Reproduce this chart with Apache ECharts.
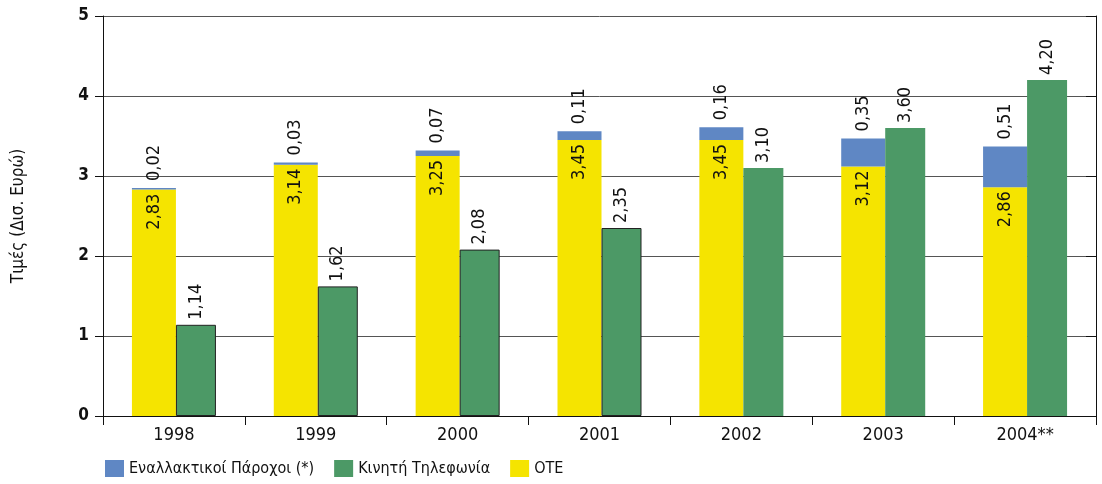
<!DOCTYPE html>
<html>
<head>
<meta charset="utf-8">
<script src="https://cdn.jsdelivr.net/npm/echarts@6/dist/echarts.min.js"></script>
<style>
html, body { margin: 0; padding: 0; background: #fff; }
#chart { width: 1102px; height: 484px; }
</style>
</head>
<body>
<div id="chart"></div>
<script>
// δεδομένα
var years = ['1998', '1999', '2000', '2001', '2002', '2003', '2004**'];
var oteValues = [2.83, 3.14, 3.25, 3.45, 3.45, 3.12, 2.86];
var altValues = [0.02, 0.03, 0.07, 0.11, 0.16, 0.35, 0.51];
var mobileValues = [1.14, 1.62, 2.08, 2.35, 3.10, 3.60, 4.20];
var yTicks = [0, 1, 2, 3, 4, 5];

var FONT = 'DejaVu Sans Condensed';

function fmt(v) {
    return v.toFixed(2).replace('.', ',');
}

var myChart = echarts.init(document.getElementById('chart')),
    option = {
        animation: false,
        textStyle: { fontFamily: FONT },
        color: ['#F5E400', '#5F87C4', '#4C9966'],
        legend: {
            left: 100,
            bottom: 2,
            icon: 'rect',
            itemWidth: 19,
            itemHeight: 17,
            itemGap: 20,
            textStyle: { fontSize: 16, color: '#111', fontFamily: FONT },
            data: ['Εναλλακτικοί Πάροχοι (*)', 'Κινητή Τηλεφωνία', 'ΟΤΕ']
        },
        grid: {
            left: 103,
            right: 6,
            top: 16,
            bottom: 68
        },
        xAxis: [
            {
                type: 'category',
                data: years,
                axisLine: { lineStyle: { color: '#111', width: 1 } },
                axisTick: { show: true, length: 9, lineStyle: { color: '#111' } },
                axisLabel: { fontSize: 18, color: '#111', margin: 10, fontFamily: FONT }
            }
        ],
        yAxis: [
            {
                type: 'value',
                min: yTicks[0],
                max: yTicks[yTicks.length - 1],
                interval: 1,
                name: 'Τιμές (Δισ. Ευρώ)',
                nameLocation: 'middle',
                nameGap: 76,
                nameTextStyle: { fontSize: 17, color: '#111', fontFamily: FONT },
                axisLine: { show: true, lineStyle: { color: '#111' } },
                axisTick: { show: true, length: 8, lineStyle: { color: '#111' } },
                axisLabel: { fontSize: 17, color: '#111', margin: 14, fontWeight: 'bold', fontFamily: FONT },
                splitLine: { lineStyle: { color: '#555', width: 1 } }
            },
            {
                type: 'value',
                position: 'right',
                min: yTicks[0],
                max: yTicks[yTicks.length - 1],
                interval: 1,
                axisLine: { show: true, lineStyle: { color: '#111' } },
                axisTick: { show: true, inside: true, length: 10, lineStyle: { color: '#111' } },
                axisLabel: { show: false },
                splitLine: { show: false }
            }
        ],
        series: [
            {
                name: 'ΟΤΕ',
                type: 'bar',
                stack: 'ote',
                barWidth: 44,
                barGap: 0,
                data: oteValues,
                label: {
                    show: true,
                    position: 'insideTop',
                    rotate: 90,
                    align: 'right',
                    verticalAlign: 'middle',
                    distance: 4,
                    fontSize: 18,
                    color: '#111',
                    fontFamily: FONT,
                    formatter: function (p) { return fmt(p.value); }
                }
            },
            {
                name: 'Εναλλακτικοί Πάροχοι (*)',
                type: 'bar',
                stack: 'ote',
                barWidth: 44,
                barGap: 0,
                data: altValues,
                label: {
                    show: true,
                    position: 'top',
                    rotate: 90,
                    align: 'left',
                    verticalAlign: 'middle',
                    distance: 7,
                    fontSize: 18,
                    color: '#111',
                    fontFamily: FONT,
                    formatter: function (p) { return fmt(p.value); }
                }
            },
            {
                name: 'Κινητή Τηλεφωνία',
                type: 'bar',
                barWidth: 40,
                barGap: 0,
                data: mobileValues.map(function (v, i) {
                    return i < 4 ? { value: v, itemStyle: { borderColor: '#222', borderWidth: 1 } } : v;
                }),
                label: {
                    show: true,
                    position: 'top',
                    rotate: 90,
                    align: 'left',
                    verticalAlign: 'middle',
                    distance: 5,
                    fontSize: 18,
                    color: '#111',
                    fontFamily: FONT,
                    formatter: function (p) { return fmt(p.value); }
                }
            }
        ]
    };

myChart.setOption(option);
</script>
</body>
</html>
